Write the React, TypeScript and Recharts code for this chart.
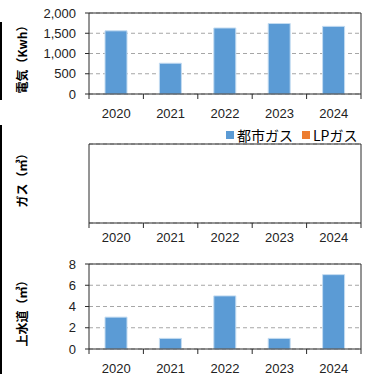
import { Bar, BarChart, CartesianGrid, Label, Legend, XAxis, YAxis } from "recharts";

const years = ["2020", "2021", "2022", "2023", "2024"];
const electricity = [1560, 760, 1630, 1740, 1670];
const cityGas: (number | null)[] = [null, null, null, null, null];
const lpGas: (number | null)[] = [null, null, null, null, null];
const water = [3, 1, 5, 1, 7];

const elecTicks = [0, 500, 1000, 1500, 2000];
const gasTicks = [0, 1];
const waterTicks = [0, 2, 4, 6, 8];
const gasNames = ["都市ガス", "LPガス"];

const BLUE = "#5b9bd5";
const ORANGE = "#ed7d31";
const AXIS = "#2b2b2b";
const GRID = "#a6a6a6";
const NUM_FONT = '"Liberation Sans", Arial, sans-serif';
const JP_FONT = '"Noto Sans CJK JP", sans-serif';
const W = 367;

const elecData = years.map((year, i) => ({ year, value: electricity[i] }));
const gasData = years.map((year, i) => ({ year, city: cityGas[i], lp: lpGas[i] }));
const waterData = years.map((year, i) => ({ year, value: water[i] }));

// year labels with Excel-style tick marks between the categories
function YearTick(props: any) {
  const { x, y, payload, index, visibleTicksCount, gap } = props;
  const half = payload?.offset ?? 0;
  const last = index === visibleTicksCount - 1;
  return (
    <g>
      <line x1={x - half} x2={x - half} y1={y} y2={y + 5} stroke={AXIS} />
      {last && <line x1={x + half} x2={x + half} y1={y} y2={y + 5} stroke={AXIS} />}
      <text
        x={x}
        y={y + gap}
        textAnchor="middle"
        dominantBaseline="central"
        fontSize={13}
        fontFamily={NUM_FONT}
        fill="#222"
      >
        {payload.value}
      </text>
    </g>
  );
}

function AxisTitle(props: any) {
  const { viewBox, text, dy } = props;
  const cx = viewBox.x + 21;
  const cy = viewBox.y + viewBox.height / 2 + dy;
  return (
    <text
      x={cx}
      y={cy}
      transform={`rotate(-90, ${cx}, ${cy})`}
      textAnchor="middle"
      dominantBaseline="central"
      fontSize={12}
      fontWeight="bold"
      fontFamily={JP_FONT}
      fill="#000"
    >
      {text}
    </text>
  );
}

function GasLegend(props: any) {
  const items = [...(props.payload || [])].sort(
    (a: any, b: any) => gasNames.indexOf(a.value) - gasNames.indexOf(b.value)
  );
  return (
    <div style={{ display: "flex", gap: 9, fontFamily: JP_FONT, fontSize: 14, color: "#000", lineHeight: "16px" }}>
      {items.map((item: any) => (
        <span key={item.value} style={{ display: "flex", alignItems: "center", gap: 3 }}>
          <span style={{ width: 8, height: 8, background: item.color, display: "inline-block" }} />
          {item.value}
        </span>
      ))}
    </div>
  );
}

const fmt = (v: number) => v.toLocaleString("en-US");

const yTick = { fontSize: 13, fontFamily: NUM_FONT, fill: "#222" };

// solid top and right edges of the plot box
const topEdge = ({ offset }: any) => [offset.top];
const rightEdge = ({ offset }: any) => [offset.left + offset.width];

export default function App() {
  return (
    <div style={{ position: "absolute", left: 0, top: 0, width: W, height: 374, background: "#fff" }}>
      <div style={{ position: "absolute", left: 0, top: 22, width: 2, height: 78, background: "#000" }} />
      <div style={{ position: "absolute", left: 0, top: 125, width: 2, height: 249, background: "#000" }} />

      <div style={{ position: "absolute", left: 0, top: 0 }}>
        <BarChart width={W} height={120} data={elecData} margin={{ top: 13, right: 6, bottom: 0, left: 0 }}>
          <CartesianGrid vertical={false} stroke={GRID} strokeDasharray="4 3" />
          <CartesianGrid stroke={AXIS} horizontalCoordinatesGenerator={topEdge} verticalCoordinatesGenerator={rightEdge} />
          <XAxis
            dataKey="year"
            height={26}
            tickSize={0}
            tickMargin={0}
            axisLine={{ stroke: AXIS }}
            tick={(p: any) => <YearTick {...p} gap={19} />}
          />
          <YAxis
            width={89}
            domain={[0, 2000]}
            ticks={elecTicks}
            interval={0}
            tickFormatter={fmt}
            tickSize={4}
            tickMargin={9}
            tick={yTick}
            axisLine={{ stroke: AXIS }}
            tickLine={{ stroke: AXIS }}
          >
            <Label content={(p: any) => <AxisTitle {...p} text="電気（Kwh）" dy={3} />} />
          </YAxis>
          <Bar dataKey="value" fill={BLUE} stroke="#c4dcf1" strokeWidth={1} barSize={22} isAnimationActive={false} />
        </BarChart>
      </div>

      <div style={{ position: "absolute", left: 0, top: 120 }}>
        <BarChart width={W} height={127} data={gasData} margin={{ top: 24, right: 6, bottom: 0, left: 0 }}>
          <CartesianGrid vertical={false} stroke={GRID} strokeDasharray="4 3" />
          <CartesianGrid stroke={AXIS} horizontalCoordinatesGenerator={topEdge} verticalCoordinatesGenerator={rightEdge} />
          <XAxis
            dataKey="year"
            height={24}
            tickSize={0}
            tickMargin={0}
            axisLine={{ stroke: AXIS }}
            tick={(p: any) => <YearTick {...p} gap={14} />}
          />
          <YAxis
            width={89}
            domain={[0, 1]}
            ticks={gasTicks}
            interval={0}
            tickSize={4}
            tickMargin={9}
            tick={yTick}
            axisLine={{ stroke: AXIS }}
            tickLine={{ stroke: AXIS }}
          >
            <Label content={(p: any) => <AxisTitle {...p} text="ガス（㎥）" dy={-6} />} />
          </YAxis>
          <Legend
            align="center"
            verticalAlign="middle"
            layout="horizontal"
            content={<GasLegend />}
            wrapperStyle={{ top: 7, left: 226, width: "auto", height: "auto" }}
          />
          <Bar dataKey="city" name="都市ガス" fill={BLUE} barSize={22} isAnimationActive={false} />
          <Bar dataKey="lp" name="LPガス" fill={ORANGE} barSize={22} isAnimationActive={false} />
        </BarChart>
      </div>

      <div style={{ position: "absolute", left: 0, top: 247 }}>
        <BarChart width={W} height={127} data={waterData} margin={{ top: 17, right: 6, bottom: 0, left: 0 }}>
          <CartesianGrid vertical={false} stroke={GRID} strokeDasharray="4 3" />
          <CartesianGrid stroke={AXIS} horizontalCoordinatesGenerator={topEdge} verticalCoordinatesGenerator={rightEdge} />
          <XAxis
            dataKey="year"
            height={25}
            tickSize={0}
            tickMargin={0}
            axisLine={{ stroke: AXIS }}
            tick={(p: any) => <YearTick {...p} gap={19} />}
          />
          <YAxis
            width={89}
            domain={[0, 8]}
            ticks={waterTicks}
            interval={0}
            tickSize={4}
            tickMargin={9}
            tick={yTick}
            axisLine={{ stroke: AXIS }}
            tickLine={{ stroke: AXIS }}
          >
            <Label content={(p: any) => <AxisTitle {...p} text="上水道（㎥）" dy={4} />} />
          </YAxis>
          <Bar dataKey="value" fill={BLUE} stroke="#c4dcf1" strokeWidth={1} barSize={22} isAnimationActive={false} />
        </BarChart>
      </div>
    </div>
  );
}
